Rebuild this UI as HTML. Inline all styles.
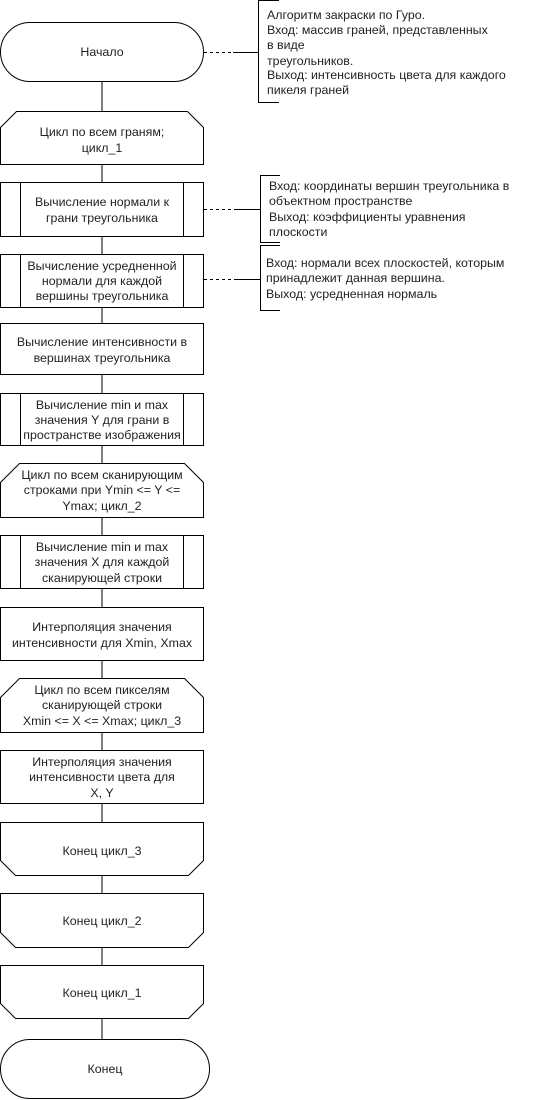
<!DOCTYPE html>
<html><head><meta charset="utf-8"><style>
html,body{margin:0;padding:0;background:#fff;width:539px;height:1100px;overflow:hidden}
text{font-family:"Liberation Sans",Arial,sans-serif;font-size:12.4px;fill:#222}
</style></head><body>
<svg width="539" height="1100" xmlns="http://www.w3.org/2000/svg">
<g fill="#fff" stroke="#000" stroke-width="1">
<line x1="102" y1="81" x2="102" y2="1039"/>
<rect x="0.5" y="22.5" width="203" height="59" rx="29.5"/>
<path d="M16.5 111.5 H187.5 L203.5 127.5 V164.5 H0.5 V127.5 Z"/>
<rect x="0.5" y="182.5" width="203" height="54"/>
<line x1="20.5" y1="182.5" x2="20.5" y2="236.5"/><line x1="183.5" y1="182.5" x2="183.5" y2="236.5"/>
<rect x="0.5" y="254.5" width="203" height="53"/>
<line x1="20.5" y1="254.5" x2="20.5" y2="307.5"/><line x1="183.5" y1="254.5" x2="183.5" y2="307.5"/>
<rect x="0.5" y="323.5" width="203" height="51"/>
<rect x="0.5" y="393.5" width="203" height="52"/>
<line x1="20.5" y1="393.5" x2="20.5" y2="445.5"/><line x1="183.5" y1="393.5" x2="183.5" y2="445.5"/>
<path d="M19.5 463.5 H184.5 L203.5 482.5 V517.5 H0.5 V482.5 Z"/>
<rect x="0.5" y="535.5" width="203" height="53"/>
<line x1="20.5" y1="535.5" x2="20.5" y2="588.5"/><line x1="183.5" y1="535.5" x2="183.5" y2="588.5"/>
<rect x="0.5" y="607.5" width="203" height="53"/>
<path d="M19.5 678.5 H184.5 L203.5 697.5 V732.5 H0.5 V697.5 Z"/>
<rect x="0.5" y="750.5" width="203" height="53"/>
<path d="M0.5 822.5 H203.5 V860.5 L188.5 875.5 H15.5 L0.5 860.5 Z"/>
<path d="M0.5 893.5 H203.5 V932.5 L188.5 947.5 H15.5 L0.5 932.5 Z"/>
<path d="M0.5 965.5 H203.5 V1003.5 L188.5 1018.5 H15.5 L0.5 1003.5 Z"/>
<rect x="0.5" y="1039.5" width="209" height="59" rx="29.5"/>
</g>
<g stroke="#000" fill="none">
<line x1="204" y1="52.5" x2="233" y2="52.5" stroke-dasharray="3,3"/>
<line x1="233" y1="52.5" x2="258" y2="52.5"/>
<path d="M279 0.5 H258.5 V102.5 H279"/>
<line x1="204" y1="209.5" x2="235" y2="209.5" stroke-dasharray="3,3"/>
<line x1="235" y1="209.5" x2="260" y2="209.5"/>
<path d="M280 175.5 H260.5 V242.5 H280"/>
<line x1="204" y1="279.5" x2="235" y2="279.5" stroke-dasharray="3,3"/>
<line x1="235" y1="279.5" x2="260" y2="279.5"/>
<path d="M280 245.5 H260.5 V310.5 H280"/>
</g>
<g text-anchor="middle">
<text x="102" y="56">Начало</text>
<text x="102" y="136">Цикл по всем граням;</text><text x="102" y="152">цикл_1</text>
<text x="102" y="206">Вычисление нормали к</text><text x="102" y="222">грани треугольника</text>
<text x="102" y="270">Вычисление усредненной</text><text x="102" y="285">нормали для каждой</text><text x="102" y="300">вершины треугольника</text>
<text x="102" y="346">Вычисление интенсивности в</text><text x="102" y="362">вершинах треугольника</text>
<text x="102" y="409">Вычисление min и max</text><text x="102" y="424">значения Y для грани в</text><text x="102" y="439">пространстве изображения</text>
<text x="102" y="479">Цикл по всем сканирующим</text><text x="102" y="494">строками при Ymin &lt;= Y &lt;=</text><text x="102" y="510">Ymax;  цикл_2</text>
<text x="102" y="551">Вычисление min и max</text><text x="102" y="566">значения X для каждой</text><text x="102" y="582">сканирующей строки</text>
<text x="102" y="631">Интерполяция значения</text><text x="102" y="647">интенсивности для Xmin, Xmax</text>
<text x="102" y="694">Цикл по всем пикселям</text><text x="102" y="709">сканирующей строки</text><text x="102" y="725">Xmin &lt;= X &lt;= Xmax; цикл_3</text>
<text x="102" y="766">Интерполяция значения</text><text x="102" y="781">интенсивности цвета для</text><text x="102" y="797">X, Y</text>
<text x="102" y="855">Конец цикл_3</text>
<text x="102" y="925">Конец цикл_2</text>
<text x="102" y="997">Конец цикл_1</text>
<text x="105" y="1073">Конец</text>
</g>
<g>
<text x="267" y="19">Алгоритм закраски по Гуро.</text>
<text x="267" y="34">Вход: массив граней, представленных</text>
<text x="267" y="49">в виде</text>
<text x="267" y="65">треугольников.</text>
<text x="267" y="79">Выход: интенсивность цвета для каждого</text>
<text x="267" y="94">пикеля граней</text>
<text x="269" y="190">Вход: координаты вершин треугольника в</text>
<text x="269" y="205">объектном пространстве</text>
<text x="269" y="221">Выход: коэффициенты уравнения</text>
<text x="269" y="236">плоскости</text>
<text x="266" y="267">Вход: нормали всех плоскостей, которым</text>
<text x="266" y="282">принадлежит данная вершина.</text>
<text x="266" y="298">Выход: усредненная нормаль</text>
</g>
</svg>
</body></html>
